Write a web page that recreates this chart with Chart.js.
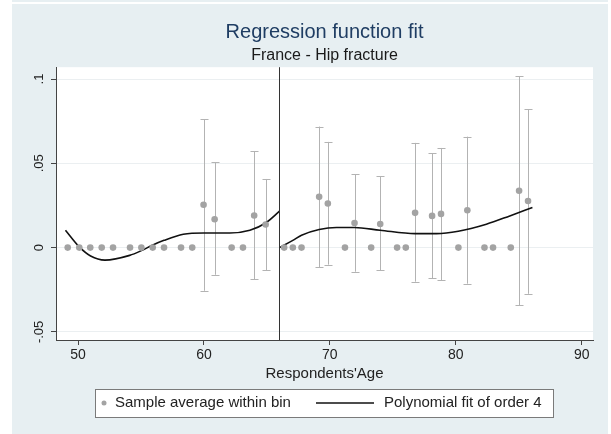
<!DOCTYPE html>
<html>
<head>
<meta charset="utf-8">
<script src="https://cdn.jsdelivr.net/npm/chart.js@4"></script>
<style>
  html, body { margin: 0; padding: 0; background: #ffffff; overflow: hidden; }
  canvas { display: block; }
</style>
</head>
<body>
<canvas id="chart" width="611" height="434"></canvas>
<script>
// bins: respondents' age and sample average within bin
const binAge = [49.18, 50.1, 50.97, 51.88, 52.78, 54.13, 55.03, 55.93, 56.83, 58.18, 59.07,
  59.97, 60.85, 62.2, 63.1, 63.99, 64.9,
  66.37, 67.06, 67.75, 69.15, 69.84, 71.2, 71.96, 73.28, 74.0, 75.34, 76.03, 76.77,
  78.12, 78.83, 80.21, 80.92, 82.28, 82.96, 84.37, 85.03, 85.74];
const binMean = [0, 0, 0, 0, 0, 0, 0, 0, 0, 0, 0,
  0.0254, 0.0168, 0, 0, 0.019, 0.0137,
  0, 0, 0, 0.0301, 0.0262, 0, 0.0146, 0, 0.014, 0, 0, 0.0206,
  0.0188, 0.02, 0, 0.0222, 0, 0, 0, 0.0337, 0.0276];
const ciLow = [null, null, null, null, null, null, null, null, null, null, null,
  -0.0256, -0.0161, null, null, -0.0189, -0.0135,
  null, null, null, -0.0115, -0.0101, null, -0.0143, null, -0.0135, null, null, -0.0202,
  -0.0183, -0.0195, null, -0.0214, null, null, null, -0.0343, -0.0274];
const ciHigh = [null, null, null, null, null, null, null, null, null, null, null,
  0.0762, 0.0506, null, null, 0.0573, 0.0407,
  null, null, null, 0.0718, 0.0627, null, 0.0436, null, 0.0423, null, null, 0.0621,
  0.056, 0.0591, null, 0.0658, null, null, null, 0.1015, 0.0821];

const fitLeftAge = [49.0, 50.1, 51.0, 52.14, 54.1, 55.03, 55.9, 56.83, 58.36, 59.97, 62.06, 63.65, 64.9, 66.0];
const fitLeftVal = [0.0103, 0.0004, -0.005, -0.0074, -0.0046, -0.0018, 0.0014, 0.0043, 0.0079, 0.0087, 0.0087, 0.0103, 0.0146, 0.0216];
const fitRightAge = [66.0, 67.06, 67.75, 69.15, 70.53, 71.96, 73.99, 76.77, 78.47, 80.2, 82.43, 84.29, 86.09];
const fitRightVal = [0.0, 0.0043, 0.0073, 0.0107, 0.0119, 0.0119, 0.0103, 0.0083, 0.0083, 0.0097, 0.0139, 0.0188, 0.0238];

const cutoff = 66;
const xTicks = [50, 60, 70, 80, 90];
const yTicks = [-0.05, 0, 0.05, 0.1];
const yTickLabels = ['-.05', '0', '.05', '.1'];

const FONT = "'Liberation Sans', Arial, sans-serif";
const BG = '#e7eff2';

const toPoints = (xs, ys) => xs.map((x, i) => ({ x: x, y: ys[i] }));

const backgroundPlugin = {
  id: 'stataBackground',
  beforeDraw(chart) {
    const { ctx, chartArea } = chart;
    ctx.save();
    ctx.fillStyle = '#ffffff';
    ctx.fillRect(0, 0, chart.width, chart.height);
    ctx.fillStyle = BG;
    ctx.fillRect(12, 0, 596, 2);
    ctx.fillRect(12, 4, 596, chart.height - 4);
    ctx.fillStyle = '#ffffff';
    ctx.fillRect(chartArea.left, chartArea.top, chartArea.right - chartArea.left, chartArea.bottom - chartArea.top);
    ctx.restore();
  }
};

const errorBarPlugin = {
  id: 'errorBars',
  beforeDatasetsDraw(chart) {
    const { ctx, scales: { x, y } } = chart;
    ctx.save();
    ctx.strokeStyle = '#b3b3b3';
    ctx.lineWidth = 1;
    binAge.forEach((age, i) => {
      if (ciLow[i] === null) return;
      const px = Math.round(x.getPixelForValue(age)) + 0.5;
      const top = y.getPixelForValue(ciHigh[i]);
      const bot = y.getPixelForValue(ciLow[i]);
      ctx.beginPath();
      ctx.moveTo(px, top);
      ctx.lineTo(px, bot);
      ctx.moveTo(px - 4, Math.round(top) + 0.5);
      ctx.lineTo(px + 4, Math.round(top) + 0.5);
      ctx.moveTo(px - 4, Math.round(bot) + 0.5);
      ctx.lineTo(px + 4, Math.round(bot) + 0.5);
      ctx.stroke();
    });
    ctx.restore();
  },
  afterDatasetsDraw(chart) {
    const { ctx, chartArea, scales: { x } } = chart;
    const px = Math.round(x.getPixelForValue(cutoff)) + 0.5;
    ctx.save();
    ctx.strokeStyle = '#333333';
    ctx.lineWidth = 1;
    ctx.beginPath();
    ctx.moveTo(px, chartArea.top);
    ctx.lineTo(px, chartArea.bottom);
    ctx.stroke();
    ctx.restore();
  }
};

// Stata-style legend: a white box with both keys in one row
const legendBoxPlugin = {
  id: 'legendBox',
  afterDraw(chart) {
    const ctx = chart.ctx;
    const sets = chart.data.datasets;
    const midY = 403;
    ctx.save();
    ctx.fillStyle = '#ffffff';
    ctx.fillRect(95, 389, 458, 28);
    ctx.strokeStyle = '#7a7a7a';
    ctx.lineWidth = 1;
    ctx.strokeRect(95.5, 389.5, 458, 28);

    ctx.fillStyle = sets[0].backgroundColor;
    ctx.beginPath();
    ctx.arc(104, midY, 2.5, 0, Math.PI * 2);
    ctx.fill();

    ctx.strokeStyle = sets[1].borderColor;
    ctx.lineWidth = 1.3;
    ctx.beginPath();
    ctx.moveTo(316, midY);
    ctx.lineTo(374, midY);
    ctx.stroke();

    ctx.fillStyle = '#222222';
    ctx.font = '15px ' + FONT;
    ctx.textBaseline = 'middle';
    ctx.textAlign = 'left';
    ctx.fillText(sets[0].label, 115, midY);
    ctx.fillText(sets[1].label, 384, midY);
    ctx.restore();
  }
};

new Chart(document.getElementById('chart'), {
  type: 'scatter',
  data: {
    datasets: [
      {
        label: 'Sample average within bin',
        data: toPoints(binAge, binMean),
        backgroundColor: '#a3a3a3',
        borderWidth: 0,
        pointRadius: 3.3
      },
      {
        type: 'line',
        label: 'Polynomial fit of order 4',
        data: toPoints(fitLeftAge, fitLeftVal),
        borderColor: '#111111',
        borderWidth: 1.6,
        pointRadius: 0,
        fill: false,
        cubicInterpolationMode: 'monotone'
      },
      {
        type: 'line',
        label: 'Polynomial fit of order 4',
        data: toPoints(fitRightAge, fitRightVal),
        borderColor: '#111111',
        borderWidth: 1.6,
        pointRadius: 0,
        fill: false,
        cubicInterpolationMode: 'monotone'
      }
    ]
  },
  options: {
    responsive: false,
    animation: false,
    devicePixelRatio: 1,
    layout: { padding: { left: 12, right: 18, top: 4, bottom: 51 } },
    plugins: {
      legend: { display: false },
      tooltip: { enabled: false },
      title: {
        display: true,
        text: 'Regression function fit',
        color: '#1f3d63',
        fullSize: false,
        font: { family: FONT, size: 20, weight: 'normal' },
        padding: { top: 16, bottom: 2 }
      },
      subtitle: {
        display: true,
        text: 'France - Hip fracture',
        color: '#1a1a1a',
        fullSize: false,
        font: { family: FONT, size: 16, weight: 'normal' },
        padding: { top: 0, bottom: 2 }
      }
    },
    scales: {
      x: {
        type: 'linear',
        min: 48.25,
        max: 90.9,
        afterBuildTicks: (axis) => { axis.ticks = xTicks.map(v => ({ value: v })); },
        afterFit: (axis) => { axis.height = 43; },
        grid: { drawOnChartArea: false, tickLength: 5, tickColor: '#444444' },
        border: { display: true, color: '#444444', width: 1 },
        ticks: {
          color: '#222222',
          font: { family: FONT, size: 14 },
          padding: 2,
          maxRotation: 0
        },
        title: {
          display: true,
          text: "Respondents'Age",
          color: '#222222',
          font: { family: FONT, size: 15 },
          padding: { top: 0, bottom: 0 }
        }
      },
      y: {
        type: 'linear',
        min: -0.0548,
        max: 0.107,
        afterBuildTicks: (axis) => { axis.ticks = yTicks.map(v => ({ value: v })); },
        afterFit: (axis) => { axis.width = 44; },
        grid: { color: '#ebeff1', tickLength: 5, tickColor: '#444444' },
        border: { display: true, color: '#444444', width: 1 },
        ticks: {
          color: '#222222',
          font: { family: FONT, size: 13 },
          minRotation: 90,
          maxRotation: 90,
          crossAlign: 'center',
          padding: 0,
          callback: (v) => yTickLabels[yTicks.indexOf(v)]
        }
      }
    }
  },
  plugins: [backgroundPlugin, errorBarPlugin, legendBoxPlugin]
});
</script>
</body>
</html>
